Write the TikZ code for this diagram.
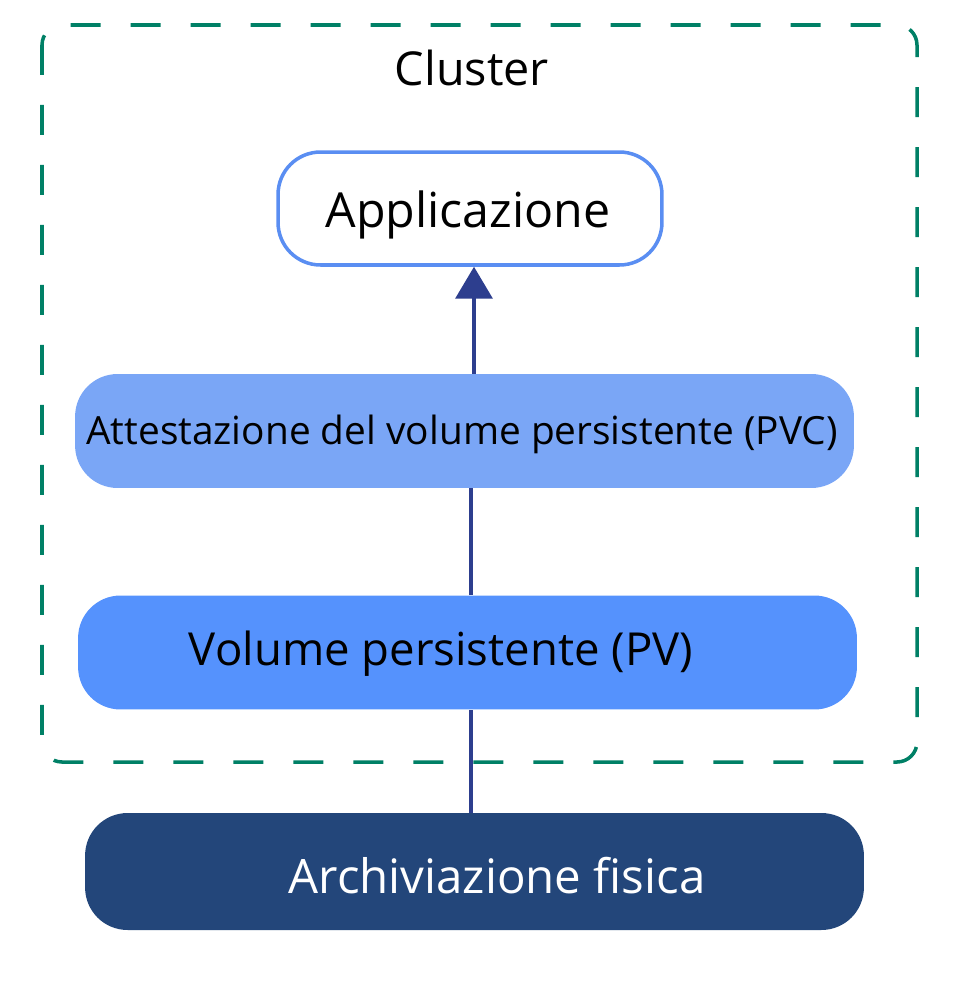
\documentclass[tikz,border=0pt]{standalone}
\usepackage{fontspec}
\setmainfont{Open Sans}
\usetikzlibrary{arrows.meta}
\definecolor{clgreen}{RGB}{0,128,102}
\definecolor{appblue}{RGB}{90,142,242}
\definecolor{pvcblue}{RGB}{122,166,246}
\definecolor{pvblue}{RGB}{85,146,253}
\definecolor{archblue}{RGB}{35,70,122}
\definecolor{linkblue}{RGB}{45,62,142}
\begin{document}
\begin{tikzpicture}[x=0.02cm,y=-0.02cm,
		layer/.style={rounded corners=0.85cm, minimum width=15.58cm, minimum height=2.28cm, inner sep=0pt},
		link/.style={draw=linkblue, line width=2.1pt}]
		\useasboundingbox (0,0) rectangle (973,981);
		\draw[clgreen, line width=2pt, dash pattern=on 0.6cm off 0.6cm, rounded corners=0.4cm] (42,25) rectangle (917,762);
		\node (Cl) at (472,68) {\fontsize{26.6}{30}\selectfont Cluster};
		\node (App) at (470,208.5) [layer, draw=appblue, line width=2pt, fill=white, minimum width=7.68cm, minimum height=2.26cm] {};
		\node at (468,215) {\fontsize{27.5}{32}\selectfont Applicazione};
		\node (PVC) at (464.5,431) [layer, fill=pvcblue] {};
		\node at (462,434) {\fontsize{22.1}{26}\selectfont Attestazione del volume persistente (PVC)};
		\node (PV) at (467.5,652.5) [layer, fill=pvblue] {};
		\node at (441,654) {\fontsize{25.9}{30}\selectfont Volume persistente (PV)};
		\node (Ar) at (474.5,871.5) [layer, fill=archblue, minimum height=2.34cm] {};
		\node at (497,876) [white] {\fontsize{27}{32}\selectfont Archiviazione fisica};
		\draw[link, -{Triangle[width=0.74cm,length=0.64cm]}] (PVC.north -| 474,0) -- (App.south -| 474,0);
		\draw[link] (PV.north -| 471,0) -- (PVC.south -| 471,0);
		\draw[link] (Ar.north -| 471,0) -- (PV.south -| 471,0);
	\end{tikzpicture}
\end{document}
